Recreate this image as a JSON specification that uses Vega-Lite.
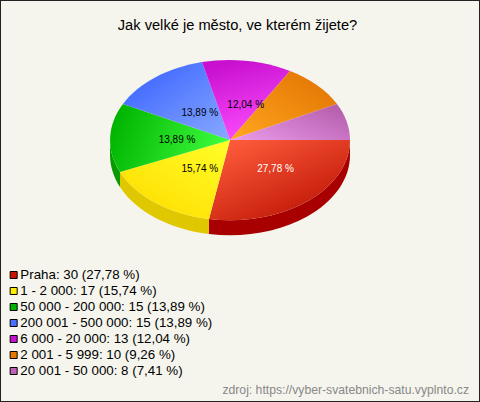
{
  "$schema": "https://vega.github.io/schema/vega-lite/v6.json",
  "autosize": {"type": "fit", "contains": "padding"},
  "width": 480,
  "height": 402,
  "padding": 0,
  "background": "#f5f5ed",
  "title": {
    "text": "Jak velké je město, ve kterém žijete?",
    "font": "Liberation Sans",
    "fontSize": 14.67,
    "fontWeight": "normal",
    "color": "#000000",
    "anchor": "middle",
    "dx": -2.5,
    "offset": -33
  },
  "config": {
    "font": "Liberation Sans",
    "view": {"stroke": "#222222", "strokeWidth": 2}
  },
  "data": {
    "values": [
      {"category": "Praha", "value": 30},
      {"category": "1 - 2 000", "value": 17},
      {"category": "50 000 - 200 000", "value": 15},
      {"category": "200 001 - 500 000", "value": 15},
      {"category": "6 000 - 20 000", "value": 13},
      {"category": "2 001 - 5 999", "value": 10},
      {"category": "20 001 - 50 000", "value": 8}
    ]
  },
  "transform": [
    {"joinaggregate": [{"op": "sum", "field": "value", "as": "total"}]},
    {"window": [{"op": "sum", "field": "value", "as": "cum"}], "frame": [null, 0]},
    {"calculate": "(datum.cum - datum.value) / datum.total * 2 * PI", "as": "a1"},
    {"calculate": "datum.cum / datum.total * 2 * PI", "as": "a2"},
    {"calculate": "min(datum.a2, PI)", "as": "w2"},
    {"calculate": "round(120 * cos(datum.a1)) + ',' + round(80 * sin(datum.a1))", "as": "p1"},
    {"calculate": "round(120 * cos(datum.a2)) + ',' + round(80 * sin(datum.a2))", "as": "p2"},
    {"calculate": "'M0,0L' + datum.p1 + 'A120,80 0 0 1 ' + datum.p2 + 'Z'", "as": "slice"},
    {"calculate": "round(120 * cos(datum.w2)) + ',' + round(80 * sin(datum.w2))", "as": "w2p"},
    {"calculate": "round(120 * cos(datum.w2)) + ',' + round(80 * sin(datum.w2) + 15)", "as": "w2d"},
    {"calculate": "round(120 * cos(datum.a1)) + ',' + round(80 * sin(datum.a1) + 15)", "as": "w1d"},
    {"calculate": "'M' + datum.p1 + 'A120,80 0 0 1 ' + datum.w2p + 'L' + datum.w2d + 'A120,80 0 0 0 ' + datum.w1d + 'Z'", "as": "wall"},
    {"calculate": "replace(format(datum.value / datum.total * 100, '.2f'), '.', ',') + ' %'", "as": "pct"},
    {"calculate": "datum.category + ': ' + datum.value + ' (' + datum.pct + ')'", "as": "label"},
    {"calculate": "(datum.a1 + datum.a2) / 2", "as": "mid"},
    {"calculate": "237 + 60 * cos(datum.mid)", "as": "lx"},
    {"calculate": "141 + 36 * sin(datum.mid)", "as": "ly"}
  ],
  "layer": [
    {
      "encoding": {
        "x": {"datum": 230, "type": "quantitative", "scale": {"domain": [0, 480]}, "axis": null},
        "y": {"datum": 140, "type": "quantitative", "scale": {"domain": [402, 0]}, "axis": null}
      },
      "layer": [
        {
          "transform": [{"filter": "datum.a1 < PI"}],
          "mark": {"type": "point", "filled": true, "opacity": 1, "strokeWidth": 0, "size": 4},
          "encoding": {
            "shape": {"field": "wall", "type": "nominal", "scale": null},
            "color": {
              "field": "category",
              "type": "nominal",
              "legend": null,
              "scale": {
                "domain": ["Praha", "1 - 2 000", "50 000 - 200 000"],
                "range": ["#a80000", "#e0c800", "#0a9a00"]
              }
            }
          }
        },
        {
          "transform": [{"filter": "datum.category == 'Praha'"}],
          "mark": {"type": "point", "filled": true, "opacity": 1, "strokeWidth": 0, "size": 4,
            "color": {"gradient": "linear", "x1": 0.1, "y1": 0.05, "x2": 0.85, "y2": 1, "stops": [{"offset": 0, "color": "#ff5c3c"}, {"offset": 1, "color": "#b81000"}]}},
          "encoding": {"shape": {"field": "slice", "type": "nominal", "scale": null}}
        },
        {
          "transform": [{"filter": "datum.category == '1 - 2 000'"}],
          "mark": {"type": "point", "filled": true, "opacity": 1, "strokeWidth": 0, "size": 4,
            "color": {"gradient": "linear", "x1": 1, "y1": 0, "x2": 0.2, "y2": 1, "stops": [{"offset": 0, "color": "#ffff28"}, {"offset": 1, "color": "#ffdc00"}]}},
          "encoding": {"shape": {"field": "slice", "type": "nominal", "scale": null}}
        },
        {
          "transform": [{"filter": "datum.category == '50 000 - 200 000'"}],
          "mark": {"type": "point", "filled": true, "opacity": 1, "strokeWidth": 0, "size": 4,
            "color": {"gradient": "linear", "x1": 1, "y1": 0.6, "x2": 0, "y2": 0.4, "stops": [{"offset": 0, "color": "#40ff40"}, {"offset": 1, "color": "#00b400"}]}},
          "encoding": {"shape": {"field": "slice", "type": "nominal", "scale": null}}
        },
        {
          "transform": [{"filter": "datum.category == '200 001 - 500 000'"}],
          "mark": {"type": "point", "filled": true, "opacity": 1, "strokeWidth": 0, "size": 4,
            "color": {"gradient": "linear", "x1": 1, "y1": 1, "x2": 0.1, "y2": 0.1, "stops": [{"offset": 0, "color": "#88aaff"}, {"offset": 1, "color": "#3c64ff"}]}},
          "encoding": {"shape": {"field": "slice", "type": "nominal", "scale": null}}
        },
        {
          "transform": [{"filter": "datum.category == '6 000 - 20 000'"}],
          "mark": {"type": "point", "filled": true, "opacity": 1, "strokeWidth": 0, "size": 4,
            "color": {"gradient": "linear", "x1": 0.7, "y1": 1, "x2": 0.4, "y2": 0, "stops": [{"offset": 0, "color": "#ff50ff"}, {"offset": 1, "color": "#c810d0"}]}},
          "encoding": {"shape": {"field": "slice", "type": "nominal", "scale": null}}
        },
        {
          "transform": [{"filter": "datum.category == '2 001 - 5 999'"}],
          "mark": {"type": "point", "filled": true, "opacity": 1, "strokeWidth": 0, "size": 4,
            "color": {"gradient": "linear", "x1": 0, "y1": 1, "x2": 1, "y2": 0, "stops": [{"offset": 0, "color": "#ffa820"}, {"offset": 1, "color": "#e07000"}]}},
          "encoding": {"shape": {"field": "slice", "type": "nominal", "scale": null}}
        },
        {
          "transform": [{"filter": "datum.category == '20 001 - 50 000'"}],
          "mark": {"type": "point", "filled": true, "opacity": 1, "strokeWidth": 0, "size": 4,
            "color": {"gradient": "linear", "x1": 0, "y1": 1, "x2": 1, "y2": 0.3, "stops": [{"offset": 0, "color": "#ec9cec"}, {"offset": 1, "color": "#b860b0"}]}},
          "encoding": {"shape": {"field": "slice", "type": "nominal", "scale": null}}
        },
        {
          "mark": {"type": "point", "filled": true, "opacity": 1, "size": 0, "shape": "square"},
          "encoding": {
            "color": {
              "field": "label",
              "type": "nominal",
              "sort": null,
              "scale": {"range": ["#c81400", "#ffee00", "#00b400", "#4a70ff", "#c810d0", "#e87800", "#c060b8"]},
              "legend": {
                "title": null,
                "orient": "none",
                "legendX": 7,
                "legendY": 267,
                "symbolType": "square",
                "symbolSize": 49,
                "symbolStrokeColor": "#000000",
                "symbolStrokeWidth": 1,
                "symbolOpacity": 1,
                "labelFont": "Liberation Sans",
                "labelFontSize": 13.33,
                "labelColor": "#000000",
                "labelLimit": 300,
                "labelOffset": 0,
                "rowPadding": 0,
                "clipHeight": 16
              }
            }
          }
        }
      ],
      "resolve": {"scale": {"color": "independent"}}
    },
    {
      "transform": [{"filter": "datum.value >= 13"}],
      "mark": {"type": "text", "font": "Liberation Sans", "fontSize": 10},
      "encoding": {
        "x": {"field": "lx", "type": "quantitative", "scale": {"domain": [0, 480]}, "axis": null},
        "y": {"field": "ly", "type": "quantitative", "scale": {"domain": [402, 0]}, "axis": null},
        "text": {"field": "pct", "type": "nominal"},
        "color": {
          "condition": {"test": "datum.category == 'Praha'", "value": "#ffffff"},
          "value": "#000000"
        }
      }
    },
    {
      "data": {"values": [{"source": "zdroj: https://vyber-svatebnich-satu.vyplnto.cz"}]},
      "transform": [],
      "mark": {"type": "text", "font": "Liberation Sans", "fontSize": 12.2, "align": "right", "color": "#888888"},
      "encoding": {
        "x": {"datum": 469, "type": "quantitative", "scale": {"domain": [0, 480]}, "axis": null},
        "y": {"datum": 390, "type": "quantitative", "scale": {"domain": [402, 0]}, "axis": null},
        "text": {"field": "source", "type": "nominal"}
      }
    }
  ],
  "resolve": {"scale": {"color": "independent"}}
}
